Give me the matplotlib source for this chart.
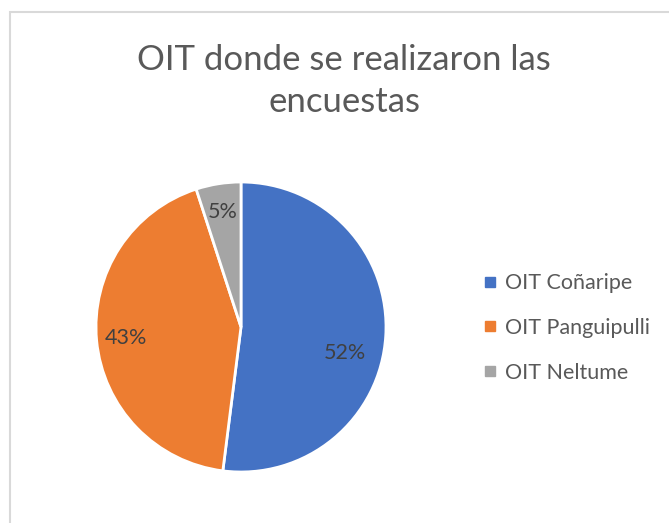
import numpy as np
import matplotlib
matplotlib.use("Agg")
import matplotlib.pyplot as plt
from matplotlib.patches import Rectangle
from matplotlib.lines import Line2D

# Datos
etiquetas = ["OIT Coñaripe", "OIT Panguipulli", "OIT Neltume"]
valores = [52, 43, 5]
colores = ["#4472C4", "#ED7D31", "#A5A5A5"]
titulo = "OIT donde se realizaron las\nencuestas"

plt.rcParams["font.family"] = ["Lato", "DejaVu Sans"]

W, H = 669, 523
fig = plt.figure(figsize=(W / 100, H / 100), dpi=100)

# marco gris del área del gráfico (se sale por abajo y por la derecha)
fig.patches.append(Rectangle((10 / W, -0.2), 1.2, 0.2 + (H - 12) / H, transform=fig.transFigure,
                             fill=False, edgecolor="#d9d9d9", linewidth=1.5))

fig.text(344 / W, 1 - 81 / H, titulo, ha="center", va="center", fontsize=25,
         color="#595959", linespacing=1.35)

ax = fig.add_axes([96 / W, 51 / H, 290 / W, 290 / H])
wedges, texts, autotexts = ax.pie(valores, colors=colores, startangle=90, counterclock=False,
                                  autopct="%1.0f%%", pctdistance=0.8,
                                  wedgeprops=dict(edgecolor="white", linewidth=2),
                                  textprops=dict(fontsize=15.5, color="#404040"))
# Excel coloca la etiqueta de 52% algo más abajo
ang = np.deg2rad(-14)
autotexts[0].set_position((0.74 * np.cos(ang), 0.74 * np.sin(ang)))
ax.set_xlim(-1, 1)
ax.set_ylim(-1, 1)
ax.set_aspect("equal")

handles = [Line2D([], [], marker="s", linestyle="", markersize=7, color=c) for c in colores]
fig.legend(handles, etiquetas, loc="center left", bbox_to_anchor=(460 / W, 1 - 328 / H),
           frameon=False, fontsize=15.5, labelcolor="#595959", handletextpad=0.2,
           labelspacing=1.15, handlelength=1.0)

fig.savefig("out.png", dpi=100)
